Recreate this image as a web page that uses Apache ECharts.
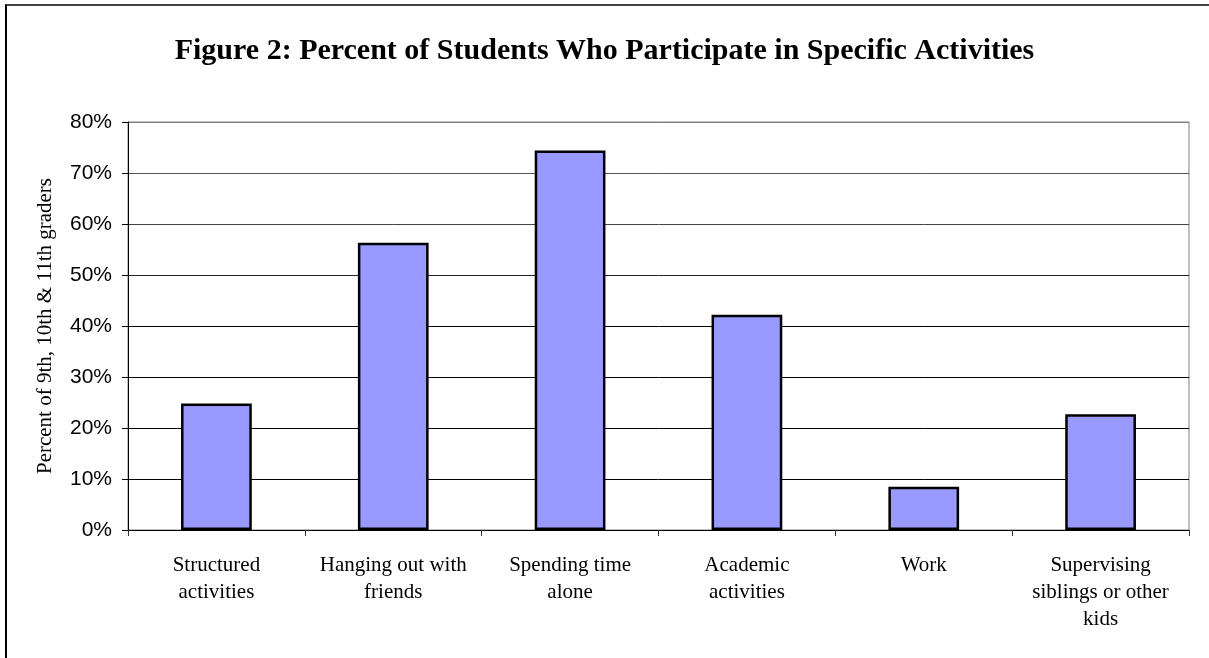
<!DOCTYPE html>
<html>
<head>
<meta charset="utf-8">
<script src="https://cdn.jsdelivr.net/npm/echarts@6/dist/echarts.min.js"></script>
<style>
html,body{margin:0;padding:0;background:#fff;}
#frame{position:absolute;left:5px;top:4px;width:1230px;height:700px;border-left:2px solid #000;border-top:2px solid #444;}
#chart{position:absolute;left:0;top:0;width:1209px;height:658px;}
</style>
</head>
<body>
<div id="frame"></div>
<div id="chart"></div>
<script>
const titleText = 'Figure 2: Percent of Students Who Participate in Specific Activities';
const yAxisTitle = 'Percent of 9th, 10th & 11th graders';
const categories = ['Structured\nactivities', 'Hanging out with\nfriends', 'Spending time\nalone', 'Academic\nactivities', 'Work', 'Supervising\nsiblings or other\nkids'];
const percentValues = [24.8, 56.3, 74.4, 42.2, 8.5, 22.7];
const yMin = 0, yMax = 80, yStep = 10;

const chart = echarts.init(document.getElementById('chart'), null, {renderer: 'canvas'});
chart.setOption({
  backgroundColor: 'transparent',
  animation: false,
  title: {
    text: titleText,
    left: 'center',
    top: 31,
    textStyle: {fontFamily: 'Liberation Serif', fontWeight: 'bold', fontSize: 30, color: '#000'}
  },
  grid: {left: 128, right: 20, top: 122, bottom: 128, show: true, borderColor: '#808080', borderWidth: 1, backgroundColor: 'transparent'},
  xAxis: {
    type: 'category',
    data: categories,
    axisLine: {lineStyle: {color: '#000', width: 1}},
    axisTick: {show: true, length: 6, lineStyle: {color: '#333'}},
    axisLabel: {fontFamily: 'Liberation Serif', fontSize: 21, lineHeight: 27, color: '#000', margin: 22, interval: 0}
  },
  yAxis: {
    type: 'value',
    min: yMin, max: yMax, interval: yStep,
    name: yAxisTitle,
    nameLocation: 'middle',
    nameRotate: 90,
    nameGap: 72,
    nameTextStyle: {fontFamily: 'Liberation Serif', fontSize: 21, color: '#000'},
    axisLine: {show: true, lineStyle: {color: '#000', width: 1}},
    axisTick: {show: true, length: 6, lineStyle: {color: '#000'}},
    axisLabel: {formatter: '{value}%', fontFamily: 'Liberation Sans', fontSize: 21, color: '#000', margin: 16},
    splitLine: {show: true, lineStyle: {color: ['#000','#000','#000','#000','#000','#222','#444','#555','#808080'], width: 1}}
  },
  series: [{
    type: 'bar',
    data: percentValues,
    barWidth: '40%',
    itemStyle: {color: '#9999FF', borderColor: '#000', borderWidth: 2.5}
  }]
});
</script>
</body>
</html>
